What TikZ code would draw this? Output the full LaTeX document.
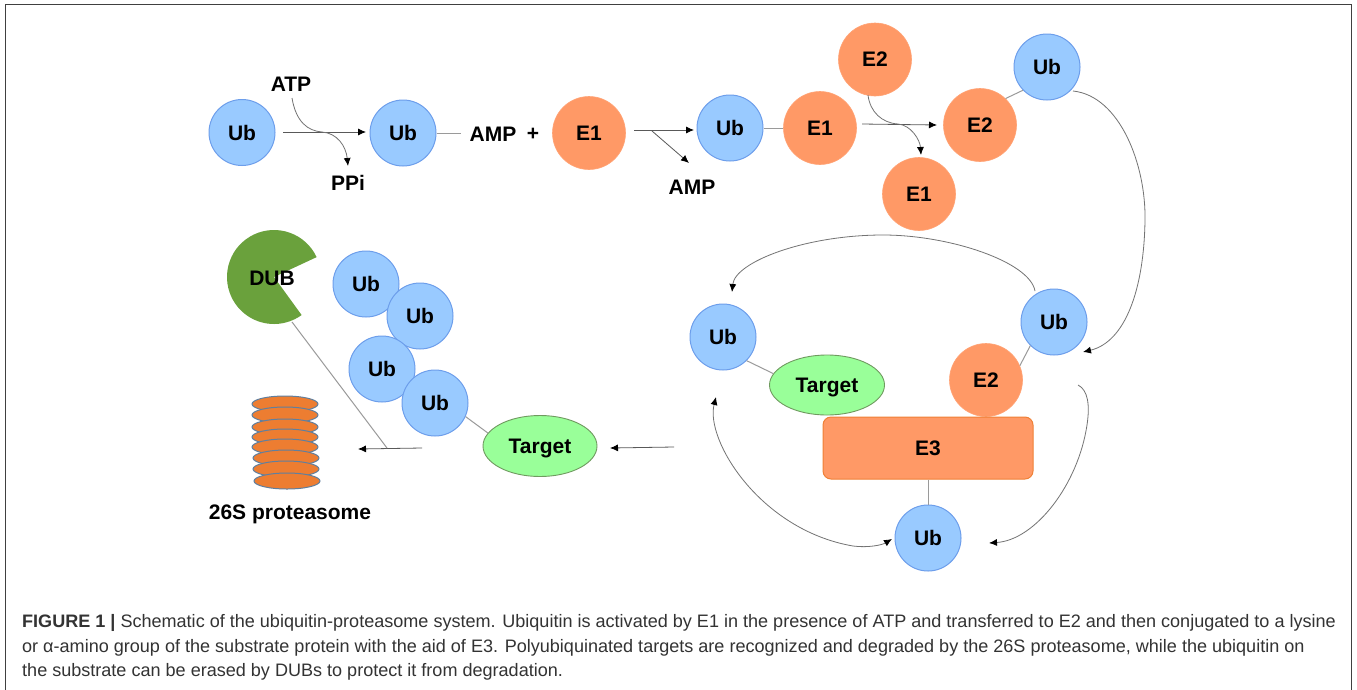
\documentclass[tikz,border=0pt]{standalone}
\usepackage{fontspec}
\setmainfont{Liberation Sans}
\usetikzlibrary{arrows.meta,shapes.geometric}
\definecolor{ubblue}{HTML}{99CAFF}
\definecolor{ubline}{HTML}{6D9EEB}
\definecolor{eorange}{HTML}{FF9966}
\definecolor{targetgreen}{HTML}{99FF99}
\definecolor{targetline}{HTML}{6F9A5F}
\definecolor{dubgreen}{HTML}{6AA13C}
\definecolor{discorange}{HTML}{ED7D31}
\definecolor{discline}{HTML}{5F7F9F}
\definecolor{lnk}{HTML}{9A9A9A}
\definecolor{capt}{HTML}{333333}
\tikzset{
 bigtext/.style={font=\fontsize{21}{21}\selectfont\bfseries},
 lab/.style={bigtext,text=black,inner sep=0pt},
 ubn/.style={circle,draw=ubline,fill=ubblue,line width=1pt,minimum size=66pt,inner sep=0pt,bigtext},
 enz/.style={circle,draw=eorange!90!white,fill=eorange,line width=.6pt,minimum size=73pt,inner sep=0pt,bigtext},
 targ/.style={ellipse,draw=targetline,fill=targetgreen,line width=.9pt,inner sep=0pt,bigtext,text depth=0pt},
 disc/.style={draw=discline,fill=discorange,line width=1pt},
 lnkline/.style={draw=lnk,line width=1pt},
 arr/.style={draw=black!65,line width=.8pt,-{Latex[length=8pt,width=7pt,black]}},
 curvearr/.style={draw=black!55,line width=.8pt,-{Latex[length=8pt,width=7pt,black]}},
 capline/.style={anchor=base west,inner sep=0pt,text=capt,font=\fontsize{18.05}{18.05}\selectfont},
}
\begin{document}
\begin{tikzpicture}[x=1pt,y=-1pt]
\useasboundingbox (0,0) rectangle (1357,689);
\fill[white] (0,0) rectangle (1357,689);
\clip (0,0) rectangle (1357,689);
\draw[black!75,line width=1pt] (5,4.5) rectangle (1351,720);
% top row
\node[ubn] (ub1) at (242,132.5) {Ub};
\node[ubn] (ub2) at (403,133) {Ub};
\node[lab] (atp) at (291,84) {ATP};
\node[lab] (ppi) at (348,183) {PPi};
\node[lab] (amp1) at (493,134) {AMP};
\node[lab] (plus) at (533,134) {+};
\node[enz] (e1a) at (589,133) {E1};
\node[ubn] (ub3) at (730,128) {Ub};
\node[enz] (e1b) at (820,128) {E1};
\node[lab] (amp2) at (692,187) {AMP};
\node[enz] (e2a) at (875,59.5) {E2};
\node[enz] (e2b) at (980,125) {E2};
\node[ubn] (ub4) at (1047,67) {Ub};
\node[enz] (e1c) at (919,194) {E1};
% E3 cycle
\node[ubn] (ubr) at (1054,322) {Ub};
\node[enz] (e2c) at (986,380) {E2};
\node[draw=discorange!90!eorange,fill=eorange,line width=1pt,rounded corners=8pt,minimum width=210pt,minimum height=62pt,inner sep=0pt,bigtext] (e3) at (928,448) {E3};
\node[ubn] (ubb) at (928,538) {Ub};
\node[ubn] (ubl) at (723,337) {Ub};
\node[targ,minimum width=115pt,minimum height=60pt] (t1) at (827,385) {Target};
% polyubiquitin
\node[ubn] (s1) at (366,284) {Ub};
\node[ubn] (s2) at (420,316) {Ub};
\node[ubn] (s3) at (382,369) {Ub};
\node[ubn] (s4) at (435,403) {Ub};
\node[targ,minimum width=114pt,minimum height=61pt] (t2) at (540,446) {Target};
% DUB
\fill[dubgreen] (274,277) -- ++(-25:47) arc[start angle=-25,end angle=-306,radius=47] -- cycle;
\node[lab] (dub) at (272,278) {DUB};
% proteasome
\foreach \x/\y in {285/404,285/415,285/427,285/437,285/447,286/458,286/469,287/481}
  \draw[disc] (\x,\y) ellipse[x radius=33,y radius=8];
\node[lab,text depth=0pt] (prot) at (290,512) {26S proteasome};
% connectors
\coordinate (a1s) at (283,132);
\coordinate (a1e) at (366,132);
\draw[arr] (a1s) -- (a1e);
\coordinate (atps) at (292,98);
\coordinate (ppie) at (348,166);
\draw[curvearr] (atps) .. controls (296,122) and (308,131) .. (322,132) .. controls (337,133) and (346,146) .. (ppie);
\coordinate (l1e) at (461,133);
\draw[lnkline] (ub2) -- (l1e);
\coordinate (a2s) at (634,130);
\coordinate (a2e) at (694,130);
\coordinate (a2b) at (652,131);
\coordinate (a2f) at (689,163);
\draw[arr] (a2s) -- (a2e);
\draw[arr] (a2b) -- (a2f);
\draw[lnkline] (ub3) -- (e1b);
\coordinate (a3s) at (862,124);
\coordinate (a3e) at (937,125);
\draw[arr] (a3s) -- (a3e);
\coordinate (e2s) at (868,95);
\coordinate (e1e) at (921,155);
\draw[curvearr] (e2s) .. controls (870,112) and (882,123) .. (898,124) .. controls (911,125) and (920,140) .. (e1e);
\draw[lnkline] (ub4.224) -- (e2b.46);
\coordinate (c1s) at (1073,91);
\coordinate (c1e) at (1083,352);
\draw[curvearr] (c1s) .. controls (1120,96) and (1146,165) .. (1145,220) .. controls (1144,290) and (1125,342) .. (c1e);
\coordinate (c2s) at (1035,291);
\coordinate (c2e) at (732,292);
\draw[curvearr] (c2s) .. controls (1030,262) and (950,235) .. (883,235) .. controls (805,235) and (735,262) .. (c2e);
\draw[lnkline] (ubr.225) -- (e2c.23);
\coordinate (c3s) at (1078,385);
\coordinate (c3e) at (989,543);
\draw[curvearr] (c3s) .. controls (1088,390) and (1090,405) .. (1087,425) .. controls (1078,485) and (1035,540) .. (c3e);
\coordinate (c4s) at (716,397);
\coordinate (c4e) at (892,539);
\draw[black!55,line width=.8pt,{Latex[length=8pt,width=7pt,black]}-{Latex[length=8pt,width=7pt,black]}] (c4s) .. controls (705,440) and (760,530) .. (853,546) .. controls (868,548) and (882,545) .. (c4e);
\draw[lnkline] (e3) -- (ubb);
\draw[lnkline] (ubl.-45) -- (t1.168);
\draw[lnkline] (s4.-24) -- (t2.166);
\coordinate (a4s) at (674,447);
\coordinate (a4e) at (610,448);
\draw[arr] (a4s) -- (a4e);
\coordinate (a5s) at (422,448);
\coordinate (a5e) at (358,449);
\draw[arr] (a5s) -- (a5e);
\coordinate (dl1) at (292,322);
\coordinate (dl2) at (387,448);
\draw[lnkline] (dl1) -- (dl2);
% caption
\node[capline] (c1) at (22,627) {\textbf{FIGURE 1 |} Schematic of the ubiquitin-proteasome system. Ubiquitin is activated by E1 in the presence of ATP and transferred to E2 and then conjugated to a lysine};
\node[capline] (c2) at (22,652) {or α-amino group of the substrate protein with the aid of E3. Polyubiquinated targets are recognized and degraded by the 26S proteasome, while the ubiquitin on};
\node[capline] (c3) at (22,676) {the substrate can be erased by DUBs to protect it from degradation.};
\end{tikzpicture}
\end{document}
